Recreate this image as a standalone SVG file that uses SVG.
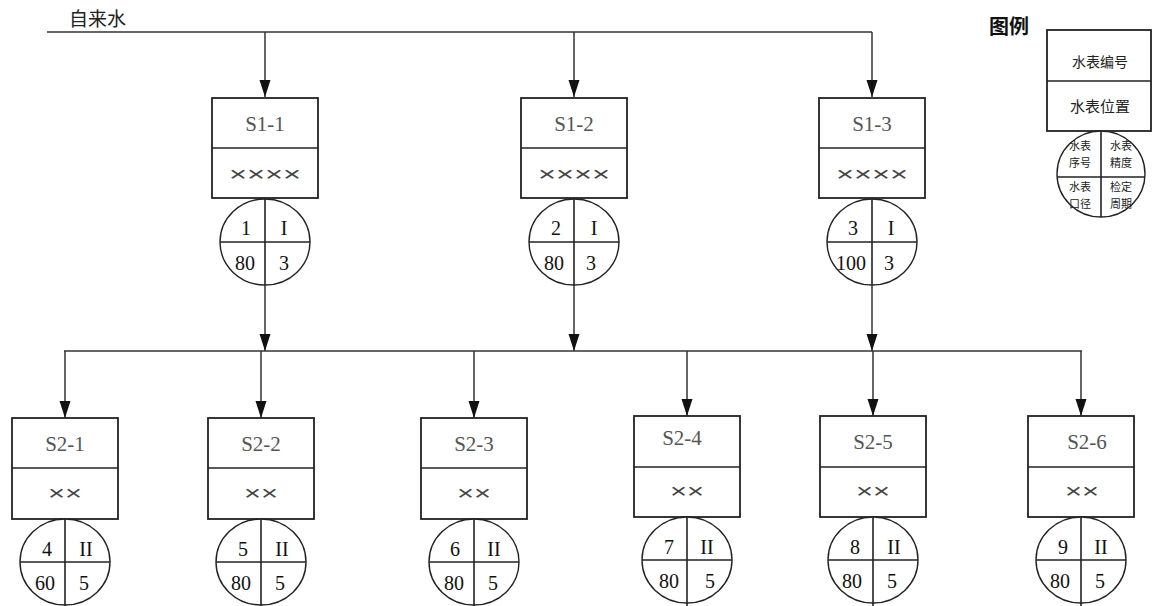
<svg xmlns="http://www.w3.org/2000/svg" width="1153" height="606" viewBox="0 0 1153 606">
<style>
.bx{fill:#fff;stroke:#222;stroke-width:1.8}
.ln{stroke:#222;stroke-width:1.6;fill:none}
.el{fill:#fff;stroke:#222;stroke-width:1.4}
.cn{stroke:#333;stroke-width:1.5;fill:none}
.id{font-family:"Liberation Serif","Times New Roman",serif;font-size:21px;fill:#555;text-anchor:middle}
.xx{font-family:"Liberation Sans","Noto Sans CJK SC",sans-serif;font-size:20px;fill:#444;text-anchor:middle}
.nm{font-family:"Liberation Serif","Times New Roman",serif;font-size:20px;fill:#111;text-anchor:middle}
.cj{font-family:"Noto Sans CJK SC",sans-serif;fill:#222;text-anchor:middle}
.lg{font-size:11px}
</style>
<defs>
<marker id="ar" markerUnits="userSpaceOnUse" markerWidth="18" markerHeight="12" refX="17" refY="5.5" orient="auto">
<path d="M0,0 L17,5.5 L0,11 z" fill="#111"/>
</marker>
</defs>
<rect width="1153" height="606" fill="#fff"/>

<g id="connectors">
<line class="cn" x1="47" y1="32" x2="872" y2="32"/>
<line class="cn" x1="265" y1="32" x2="265" y2="97" marker-end="url(#ar)"/>
<line class="cn" x1="574" y1="32" x2="574" y2="97" marker-end="url(#ar)"/>
<line class="cn" x1="872" y1="32" x2="872" y2="97" marker-end="url(#ar)"/>
<line class="cn" x1="265" y1="285" x2="265" y2="351" marker-end="url(#ar)"/>
<line class="cn" x1="574" y1="285" x2="574" y2="351" marker-end="url(#ar)"/>
<line class="cn" x1="872" y1="285" x2="872" y2="351" marker-end="url(#ar)"/>
<line class="cn" x1="64" y1="351" x2="1082" y2="351"/>
<line class="cn" x1="65" y1="351" x2="65" y2="418" marker-end="url(#ar)"/>
<line class="cn" x1="261" y1="351" x2="261" y2="418" marker-end="url(#ar)"/>
<line class="cn" x1="474" y1="351" x2="474" y2="418" marker-end="url(#ar)"/>
<line class="cn" x1="687" y1="351" x2="687" y2="416" marker-end="url(#ar)"/>
<line class="cn" x1="873" y1="351" x2="873" y2="416" marker-end="url(#ar)"/>
<line class="cn" x1="1081" y1="351" x2="1081" y2="416" marker-end="url(#ar)"/>
</g>

<g id="source">
<text x="69" y="26" class="cj" style="font-size:19px;text-anchor:start">自来水</text>
</g>

<!-- Top row -->
<g id="S1-1">
<rect class="bx" x="212" y="98" width="106" height="100"/>
<line class="ln" x1="212" y1="148" x2="318" y2="148"/>
<text class="id" x="265" y="131">S1-1</text>
<text class="xx" x="265" y="181" textLength="72" lengthAdjust="spacingAndGlyphs">××××</text>
<ellipse class="el" cx="265" cy="242" rx="45" ry="43"/>
<line class="ln" x1="265" y1="198" x2="265" y2="285"/>
<line class="ln" x1="220" y1="242" x2="310" y2="242"/>
<text class="nm" x="246" y="235">1</text><text class="nm" x="284" y="235">I</text>
<text class="nm" x="245" y="270">80</text><text class="nm" x="284" y="270">3</text>
</g>
<g id="S1-2">
<rect class="bx" x="521" y="98" width="106" height="100"/>
<line class="ln" x1="521" y1="148" x2="627" y2="148"/>
<text class="id" x="574" y="131">S1-2</text>
<text class="xx" x="574" y="181" textLength="72" lengthAdjust="spacingAndGlyphs">××××</text>
<ellipse class="el" cx="574" cy="242" rx="45" ry="43"/>
<line class="ln" x1="574" y1="198" x2="574" y2="285"/>
<line class="ln" x1="529" y1="242" x2="619" y2="242"/>
<text class="nm" x="556" y="235">2</text><text class="nm" x="594" y="235">I</text>
<text class="nm" x="554" y="270">80</text><text class="nm" x="591" y="270">3</text>
</g>
<g id="S1-3">
<rect class="bx" x="819" y="98" width="106" height="100"/>
<line class="ln" x1="819" y1="148" x2="925" y2="148"/>
<text class="id" x="872" y="131">S1-3</text>
<text class="xx" x="872" y="181" textLength="72" lengthAdjust="spacingAndGlyphs">××××</text>
<ellipse class="el" cx="872" cy="242" rx="45" ry="43"/>
<line class="ln" x1="872" y1="198" x2="872" y2="285"/>
<line class="ln" x1="827" y1="242" x2="917" y2="242"/>
<text class="nm" x="853" y="235">3</text><text class="nm" x="891" y="235">I</text>
<text class="nm" x="851" y="270">100</text><text class="nm" x="889" y="270">3</text>
</g>

<!-- Bottom row -->
<g id="S2-1">
<rect class="bx" x="12" y="418" width="106" height="101"/>
<line class="ln" x1="12" y1="468" x2="118" y2="468"/>
<text class="id" x="65" y="451">S2-1</text>
<text class="xx" x="65" y="500" textLength="34" lengthAdjust="spacingAndGlyphs">××</text>
<ellipse class="el" cx="65" cy="562" rx="45" ry="43"/>
<line class="ln" x1="65" y1="519" x2="65" y2="606"/>
<line class="ln" x1="20" y1="562" x2="110" y2="562"/>
<text class="nm" x="47" y="556">4</text><text class="nm" x="86" y="556">II</text>
<text class="nm" x="45" y="590">60</text><text class="nm" x="84" y="590">5</text>
</g>
<g id="S2-2">
<rect class="bx" x="208" y="418" width="106" height="101"/>
<line class="ln" x1="208" y1="468" x2="314" y2="468"/>
<text class="id" x="261" y="451">S2-2</text>
<text class="xx" x="261" y="500" textLength="34" lengthAdjust="spacingAndGlyphs">××</text>
<ellipse class="el" cx="261" cy="562" rx="45" ry="43"/>
<line class="ln" x1="261" y1="519" x2="261" y2="606"/>
<line class="ln" x1="216" y1="562" x2="306" y2="562"/>
<text class="nm" x="243" y="556">5</text><text class="nm" x="282" y="556">II</text>
<text class="nm" x="241" y="590">80</text><text class="nm" x="280" y="590">5</text>
</g>
<g id="S2-3">
<rect class="bx" x="421" y="418" width="106" height="101"/>
<line class="ln" x1="421" y1="468" x2="527" y2="468"/>
<text class="id" x="474" y="451">S2-3</text>
<text class="xx" x="474" y="500" textLength="34" lengthAdjust="spacingAndGlyphs">××</text>
<ellipse class="el" cx="474" cy="562" rx="45" ry="43"/>
<line class="ln" x1="474" y1="519" x2="474" y2="606"/>
<line class="ln" x1="429" y1="562" x2="519" y2="562"/>
<text class="nm" x="455" y="556">6</text><text class="nm" x="494" y="556">II</text>
<text class="nm" x="454" y="590">80</text><text class="nm" x="493" y="590">5</text>
</g>
<g id="S2-4">
<rect class="bx" x="634" y="416" width="106" height="101"/>
<line class="ln" x1="634" y1="467" x2="740" y2="467"/>
<text class="id" x="682" y="445">S2-4</text>
<text class="xx" x="687" y="498" textLength="34" lengthAdjust="spacingAndGlyphs">××</text>
<ellipse class="el" cx="687" cy="560" rx="45" ry="43"/>
<line class="ln" x1="687" y1="517" x2="687" y2="606"/>
<line class="ln" x1="642" y1="560" x2="732" y2="560"/>
<text class="nm" x="669" y="554">7</text><text class="nm" x="707" y="554">II</text>
<text class="nm" x="669" y="588">80</text><text class="nm" x="710" y="588">5</text>
</g>
<g id="S2-5">
<rect class="bx" x="820" y="416" width="106" height="101"/>
<line class="ln" x1="820" y1="467" x2="926" y2="467"/>
<text class="id" x="873" y="449">S2-5</text>
<text class="xx" x="873" y="498" textLength="34" lengthAdjust="spacingAndGlyphs">××</text>
<ellipse class="el" cx="873" cy="560" rx="45" ry="43"/>
<line class="ln" x1="873" y1="517" x2="873" y2="606"/>
<line class="ln" x1="828" y1="560" x2="918" y2="560"/>
<text class="nm" x="855" y="554">8</text><text class="nm" x="894" y="554">II</text>
<text class="nm" x="852" y="588">80</text><text class="nm" x="892" y="588">5</text>
</g>
<g id="S2-6">
<rect class="bx" x="1028" y="416" width="106" height="101"/>
<line class="ln" x1="1028" y1="467" x2="1134" y2="467"/>
<text class="id" x="1087" y="449">S2-6</text>
<text class="xx" x="1082" y="498" textLength="34" lengthAdjust="spacingAndGlyphs">××</text>
<ellipse class="el" cx="1081" cy="560" rx="45" ry="43"/>
<line class="ln" x1="1081" y1="517" x2="1081" y2="606"/>
<line class="ln" x1="1036" y1="560" x2="1126" y2="560"/>
<text class="nm" x="1063" y="554">9</text><text class="nm" x="1101" y="554">II</text>
<text class="nm" x="1060" y="588">80</text><text class="nm" x="1100" y="588">5</text>
</g>

<!-- Legend -->
<g id="legend">
<text x="989" y="34" class="cj" style="font-size:20px;font-weight:bold;text-anchor:start;fill:#111">图例</text>
<rect class="bx" x="1047" y="30" width="104" height="101"/>
<line class="ln" x1="1047" y1="81" x2="1151" y2="81"/>
<text class="cj" x="1100" y="67" style="font-size:14px">水表编号</text>
<text class="cj" x="1100" y="112" style="font-size:15px">水表位置</text>
<ellipse class="el" cx="1101" cy="174" rx="44" ry="43"/>
<line class="ln" x1="1101" y1="131" x2="1101" y2="217"/>
<line class="ln" x1="1057" y1="177" x2="1145" y2="177"/>
<text class="cj lg" x="1080" y="150">水表</text>
<text class="cj lg" x="1080" y="167">序号</text>
<text class="cj lg" x="1121" y="150">水表</text>
<text class="cj lg" x="1121" y="167">精度</text>
<text class="cj lg" x="1080" y="191">水表</text>
<text class="cj lg" x="1080" y="208">口径</text>
<text class="cj lg" x="1121" y="191">检定</text>
<text class="cj lg" x="1121" y="208">周期</text>
</g>
</svg>
